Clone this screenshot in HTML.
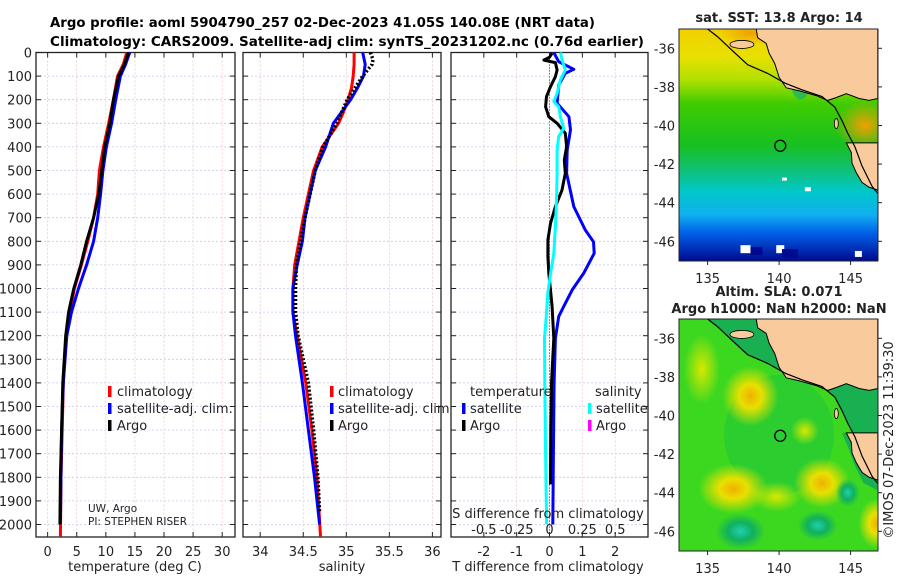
<!DOCTYPE html>
<html><head><meta charset="utf-8"><style>
html,body{margin:0;padding:0;background:#fff;}
svg{display:block;font-family:"DejaVu Sans","Liberation Sans",sans-serif;}
</style></head><body>
<svg id="fig" width="900" height="580" viewBox="0 0 900 580" xmlns="http://www.w3.org/2000/svg">
<defs>
<linearGradient id="sstGrad" x1="0" y1="0" x2="0" y2="1">
<stop offset="0" stop-color="#f0d000"/><stop offset="0.12" stop-color="#e8e000"/>
<stop offset="0.22" stop-color="#b0e000"/><stop offset="0.32" stop-color="#40cc00"/>
<stop offset="0.5" stop-color="#18c020"/><stop offset="0.6" stop-color="#10c070"/>
<stop offset="0.7" stop-color="#00c8c8"/><stop offset="0.8" stop-color="#10b0f0"/>
<stop offset="0.88" stop-color="#0060e8"/><stop offset="1" stop-color="#000a90"/></linearGradient>
<radialGradient id="blobY"><stop offset="0" stop-color="#f0b000"/><stop offset="0.4" stop-color="#e8e000"/><stop offset="1" stop-color="#e8e000" stop-opacity="0"/></radialGradient>
<radialGradient id="blobL"><stop offset="0" stop-color="#d8e800"/><stop offset="1" stop-color="#d8e800" stop-opacity="0"/></radialGradient>
<radialGradient id="blobT"><stop offset="0" stop-color="#20d0b0"/><stop offset="0.5" stop-color="#10b060"/><stop offset="1" stop-color="#10b060" stop-opacity="0"/></radialGradient>
<radialGradient id="blobO"><stop offset="0" stop-color="#f0a000"/><stop offset="1" stop-color="#f0a000" stop-opacity="0"/></radialGradient>
<clipPath id="clipMap1"><rect x="679" y="29" width="199" height="232"/></clipPath>
<clipPath id="clipMap2"><rect x="679" y="319" width="199" height="232"/></clipPath>
</defs>
<text x="50" y="27" font-size="13.5" font-weight="bold" textLength="545" lengthAdjust="spacingAndGlyphs">Argo profile: aoml 5904790_257 02-Dec-2023 41.05S 140.08E (NRT data)</text>
<text x="50" y="46" font-size="13.5" font-weight="bold" textLength="594" lengthAdjust="spacingAndGlyphs">Climatology: CARS2009. Satellite-adj clim: synTS_20231202.nc (0.76d earlier)</text>
<g id="panels"></g>
<g id="maps"></g>
</svg>
<script>
// ---------- data ----------
const depthTicks = [0,100,200,300,400,500,600,700,800,900,1000,1100,1200,1300,1400,1500,1600,1700,1800,1900,2000];
const tempTicks = [0,5,10,15,20,25,30];
const salTicks = [34,34.5,35,35.5,36];
const salTickLabels = ["34","34.5","35","35.5","36"];
const diffTicks = [-2,-1,0,1,2];
const sDiffTickLabels = ["-0.5","-0.25","0","0.25","0.5"];

const depthTemp = [0,50,100,200,300,400,500,600,700,800,900,1000,1100,1200,1400,1600,1800,2000];
const tempArgo = [13.9,13.2,12.2,11.3,10.7,9.8,9.3,8.8,7.9,6.7,5.7,4.5,3.6,3.1,2.6,2.4,2.2,2.1];
const depthTempClim = [0,50,100,200,300,400,500,600,700,800,900,1000,1100,1200,1400,1600,1800,2050];
const tempClim = [13.6,13.0,12.0,11.3,10.5,9.6,8.9,8.6,7.9,6.9,5.8,4.6,3.8,3.2,2.7,2.5,2.3,2.2];
const tempSat = [14.1,13.4,12.5,11.7,11.0,10.1,9.5,9.1,8.6,7.9,6.7,5.3,4.1,3.3,2.7,2.4,2.3,2.2];

const depthSal = [0,50,100,150,200,250,300,400,500,600,700,800,900,1000,1100,1200,1400,1600,1800,2000];
const depthSalClim = [0,50,100,150,200,250,300,400,500,600,700,800,900,1000,1100,1200,1400,1600,1800,2050];
const salClim = [35.09,35.09,35.08,35.06,35.02,34.97,34.91,34.72,34.62,34.56,34.50,34.45,34.40,34.38,34.38,34.43,34.53,34.60,34.66,34.70];
const salSat = [35.19,35.22,35.20,35.13,35.05,34.95,34.85,34.76,34.64,34.58,34.52,34.49,34.43,34.38,34.38,34.41,34.49,34.56,34.63,34.69];
const depthSalArgo = [0,30,50,100,150,200,250,300,400,500,600,700,800,900,1000,1100,1200,1400,1600,1800,1950];
const salArgo = [35.28,35.31,35.30,35.19,35.10,35.01,34.95,34.89,34.73,34.64,34.58,34.52,34.47,34.42,34.41,34.41,34.44,34.56,34.62,34.67,34.69];

const depthDiffSatT = [0,39,71,88,138,215,272,328,413,512,653,752,802,851,936,1006,1077,1119,1211,1400,1700,2000];
const diffSatT = [0.13,0.28,0.74,0.48,0.28,0.23,0.59,0.64,0.54,0.52,0.74,1.09,1.34,1.36,1.04,0.69,0.43,0.28,0.18,0.14,0.12,0.1];
const depthDiffArgoT = [3,20,32,43,74,102,145,187,230,272,300,342,399,455,512,583,653,724,794,865,936,1006,1077,1211,1400,1600,1830];
const diffArgoT = [0.08,0.0,-0.17,0.18,0.23,0.18,0.03,-0.09,-0.12,-0.02,0.23,0.48,0.52,0.45,0.48,0.38,0.18,0.03,-0.05,-0.05,-0.02,0.03,0.08,0.13,0.06,0.04,0.03];
const depthDiffSatS = [0,32,74,116,173,208,230,272,321,356,413,512,625,738,851,936,1020,1105,1211,1400,1700,2000];
const diffSatS = [0.083,0.096,0.12,0.083,0.058,0.033,0.07,0.083,0.108,0.07,0.058,0.058,0.053,0.045,0.033,0.008,-0.013,-0.023,-0.038,-0.036,-0.03,-0.022];

const mapLonTicks = [135,140,145];
const mapLatTicks = [-36,-38,-40,-42,-44,-46];
const floatLon = 140.08, floatLat = -41.05;
const mainlandLon = [138.4,138.5,139.1,139.3,139.7,140.0,140.5,141.4,142.6,143.4,144.0,144.7,145.6,146.3,146.9,146.9];
const mainlandLat = [-35.0,-35.45,-35.75,-36.25,-36.8,-37.5,-38.05,-38.2,-38.45,-38.7,-38.55,-38.35,-38.6,-38.7,-38.6,-35.0];
const tasLon = [144.7,145.05,145.1,145.4,145.8,146.3,146.9,146.9];
const tasLat = [-40.9,-41.4,-41.95,-42.45,-42.95,-43.2,-43.35,-40.9];
const shelfLon = [135.0,135.7,136.7,137.8,139.2,140.4,141.6,143.0,143.9,144.4,144.8,145.3,145.8,146.5,147.2];
const shelfLat = [-35.0,-35.4,-36.1,-36.85,-37.3,-37.8,-38.15,-38.5,-39.05,-39.75,-40.4,-41.1,-42.1,-43.15,-43.8];

// ---------- helpers ----------
const NS = "http://www.w3.org/2000/svg";
function mk(tag, attrs, parent){ const e=document.createElementNS(NS,tag); for(const k in attrs) e.setAttribute(k,attrs[k]); (parent||document.getElementById('panels')).appendChild(e); return e; }
const yTop=52.5, yBot=537, dMax=2053;
const yD = d => yTop + d*(yBot-yTop)/dMax;

function panel(name, x0, x1, xmin, xmax, ticks, labels, showY){
  const g = mk('g',{});
  
  
  const xs = v => x0 + (v-xmin)*(x1-x0)/(xmax-xmin);
  mk('rect',{x:x0,y:yTop,width:x1-x0,height:yBot-yTop,fill:'#fff'},g);
  depthTicks.forEach(d=>{ mk('line',{x1:x0,x2:x1,y1:yD(d),y2:yD(d),stroke:'#c8c8ee','stroke-width':0.8,'stroke-dasharray':'2,2'},g);
    mk('line',{x1:x0,x2:x0+5,y1:yD(d),y2:yD(d),stroke:'#222'},g); mk('line',{x1:x1-5,x2:x1,y1:yD(d),y2:yD(d),stroke:'#222'},g);
    if(showY){ const t=mk('text',{x:x0-4,y:yD(d)+5,'font-size':13,'text-anchor':'end',fill:'#222'},g); t.textContent=d;
      
       } });
  ticks.forEach((v,i)=>{ const x=xs(v); mk('line',{x1:x,x2:x,y1:yTop,y2:yBot,stroke:'#ecc8c8','stroke-width':0.8,'stroke-dasharray':'2,2'},g);
    mk('line',{x1:x,x2:x,y1:yTop,y2:yTop+5,stroke:'#222'},g); mk('line',{x1:x,x2:x,y1:yBot-5,y2:yBot,stroke:'#222'},g);
    const t=mk('text',{x:x,y:556,'font-size':13,'text-anchor':'middle',fill:'#222'},g); t.textContent=labels[i];
    
     });
  mk('rect',{x:x0,y:yTop,width:x1-x0,height:yBot-yTop,fill:'none',stroke:'#222','stroke-width':1.3},g);
  return {g,xs};
}
function line(p, vals, depths, color, name, extra){
  const pts = vals.map((v,i)=>p.xs(v).toFixed(1)+','+yD(depths[i]).toFixed(1)).join(' ');
  const e = mk('polyline',Object.assign({points:pts,fill:'none',stroke:color,'stroke-width':3,'stroke-linejoin':'round'},extra||{}),p.g);
  
  
  return e;
}
function txt(parent,x,y,s,size,extra){ const t=mk('text',Object.assign({x:x,y:y,'font-size':size,fill:'#222'},extra||{}),parent); t.textContent=s; return t; }
function legendBar(parent,x,y,color){ mk('rect',{x:x,y:y-10,width:3.5,height:11,fill:color},parent); }

// ---------- panel 1: temperature ----------
const p1 = panel('temperature-panel',36,235,-2,32.2,tempTicks,tempTicks.map(String),true);
line(p1,tempClim,depthTempClim,'#ff0000','temp-climatology-line');
line(p1,tempSat,depthTemp,'#0000ff','temp-satellite-line');
line(p1,tempArgo,depthTemp,'#000000','temp-argo-line');
let t;
t=txt(p1.g,135,571,'temperature (deg C)',13,{'text-anchor':'middle'});  
[['#ff0000','climatology',396],['#0000ff','satellite-adj. clim.',413],['#000','Argo',430]].forEach(l=>{ legendBar(p1.g,108,l[2],l[0]); const e=txt(p1.g,117,l[2],l[1],13);
  
   });
t=txt(p1.g,88,512,'UW, Argo',10.5);  
t=txt(p1.g,88,525,'PI: STEPHEN RISER',10.5);  

// ---------- panel 2: salinity ----------
const p2 = panel('salinity-panel',243,441,33.8,36.1,salTicks,salTickLabels,false);
line(p2,salClim,depthSalClim,'#ff0000','sal-climatology-line');
line(p2,salSat,depthSal,'#0000ff','sal-satellite-line');
line(p2,salArgo,depthSalArgo,'#000000','sal-argo-line',{'stroke-dasharray':'2,2','stroke-width':3.5});
t=txt(p2.g,342,571,'salinity',13,{'text-anchor':'middle'});  
[['#ff0000','climatology',396],['#0000ff','satellite-adj. clim.',413],['#000','Argo',430]].forEach(l=>{ legendBar(p2.g,330,l[2],l[0]); const e=txt(p2.g,338,l[2],l[1],13);
  
   });

// ---------- panel 3: differences ----------
const p3 = panel('difference-panel',451,648,-3,3,diffTicks,diffTicks.map(String),false);
mk('line',{x1:p3.xs(0),x2:p3.xs(0),y1:yTop,y2:yBot,stroke:'#333','stroke-width':1,'stroke-dasharray':'1,2'},p3.g);
const diffSatSasT = diffSatS.map(v=>v*4);
line(p3,diffSatT,depthDiffSatT,'#0000ff','t-diff-satellite-line');
line(p3,diffArgoT,depthDiffArgoT,'#000000','t-diff-argo-line');
line(p3,diffSatSasT,depthDiffSatS,'#00ffff','s-diff-satellite-line');
t=txt(p3.g,548,571,'T difference from climatology',13,{'text-anchor':'middle'});  
t=txt(p3.g,548,518,'S difference from climatology',13,{'text-anchor':'middle'});  
diffTicks.forEach((v,i)=>{ const e=txt(p3.g,p3.xs(v),534,sDiffTickLabels[i],13,{'text-anchor':'middle'});
  
   });
t=txt(p3.g,470,396,'temperature',13);  
t=txt(p3.g,595,396,'salinity',13);  
[['#0000ff','satellite',462,413],['#000','Argo',462,430],['#00ffff','satellite',588,413],['#ff00ff','Argo',588,430]].forEach(l=>{ legendBar(p3.g,l[2],l[3],l[0]); const e=txt(p3.g,l[2]+8,l[3],l[1],13);
  
   });

// ---------- maps ----------
const mapsG = document.getElementById('maps');
const mx = lon => 679 + (lon-133)*14.3;
function drawMap(name, y0, clip, kind){
  const my = lat => y0 + (-35-lat)*19.3;
  const g = mk('g',{},mapsG);
  
  
  const c = mk('g',{'clip-path':'url(#'+clip+')'},g);
  // shelf band polygon: shelf line then back along coast
  const shelfPts = shelfLon.map((v,i)=>mx(v)+','+my(shelfLat[i])).join(' ') + ' ' +
    [[147.2,-38.6],[146.3,-38.7],[145.6,-38.6],[144.7,-38.35],[144.0,-38.55],[143.4,-38.7],[142.6,-38.45],[141.4,-38.2],[140.5,-38.05],[140.0,-37.5],[139.7,-36.8],[139.3,-36.25],[139.1,-35.75],[138.5,-35.45],[138.4,-35.0]].map(p=>mx(p[0])+','+my(p[1])).join(' ');
  if(kind==='sst'){
    mk('rect',{x:679,y:y0,width:199,height:232,fill:'url(#sstGrad)'},c);
    mk('ellipse',{cx:mx(146),cy:my(-40),rx:30,ry:25,fill:'url(#blobO)'},c);
    mk('ellipse',{cx:mx(138),cy:my(-35.2),rx:30,ry:12,fill:'url(#blobO)'},c);
    mk('ellipse',{cx:mx(141.5),cy:my(-37.7),rx:10,ry:18,fill:'#10b070',opacity:0.7},c);
    [[137.3,-46.2,10,8],[139.8,-46.2,8,8],[145.3,-46.5,7,6],[141.8,-43.2,6,4],[140.2,-42.7,5,3]].forEach(w=>mk('rect',{x:mx(w[0]),y:my(w[1]),width:w[2],height:w[3],fill:'#fff'},c));
    mk('rect',{x:mx(138),y:my(-46.3),width:12,height:8,fill:'#000a90'},c);
    mk('rect',{x:mx(140.2),y:my(-46.4),width:16,height:9,fill:'#000a90'},c);
  } else {
    mk('rect',{x:679,y:y0,width:199,height:232,fill:'#3cd820'},c);
    mk('ellipse',{cx:mx(140),cy:my(-41),rx:55,ry:60,fill:'#22c83a',opacity:0.6},c);
    [[138,-39,28,30,'blobY'],[136.8,-43.8,35,25,'blobY'],[143,-43.5,28,25,'blobY'],[134.6,-37.6,18,35,'blobL'],[146.8,-45.6,18,25,'blobY'],[141.8,-40.8,14,14,'blobL'],[139.8,-44.2,25,15,'blobL'],[137.3,-46,25,18,'blobT'],[142.7,-45.7,20,15,'blobT'],[144.8,-44,12,14,'blobT']].forEach(b=>mk('ellipse',{cx:mx(b[0]),cy:my(b[1]),rx:b[2],ry:b[3],fill:'url(#'+b[4]+')'},c));
    mk('polygon',{points:shelfPts,fill:'#18b050'},c);
    mk('polygon',{points:[[144.7,-40.9],[144.4,-40.9],[144.8,-41.6],[145.3,-42.6],[145.9,-43.5],[147.2,-44],[147.2,-43.8],[146.5,-43.15],[145.8,-42.1],[145.3,-41.1]].map(p=>mx(p[0])+','+my(p[1])).join(' '),fill:'#18b050'},c);
  }
  const land = mk('polygon',{points:mainlandLon.map((v,i)=>mx(v)+','+my(mainlandLat[i])).join(' '),fill:'#f9cb9c',stroke:'#000','stroke-width':1},c);
  
  
  mk('polygon',{points:tasLon.map((v,i)=>mx(v)+','+my(tasLat[i])).join(' '),fill:'#f9cb9c',stroke:'#000','stroke-width':1},c);
  mk('ellipse',{cx:mx(137.4),cy:my(-35.8),rx:12,ry:4,fill:'#f9cb9c',stroke:'#000','stroke-width':0.8},c);
  mk('ellipse',{cx:mx(144),cy:my(-39.9),rx:2,ry:5,fill:'#f9cb9c',stroke:'#000','stroke-width':0.8},c);
  const sh = mk('polyline',{points:shelfLon.map((v,i)=>mx(v)+','+my(shelfLat[i])).join(' '),fill:'none',stroke:'#000','stroke-width':1.2},c);
  
  
  const fl = mk('circle',{cx:mx(floatLon),cy:my(floatLat),r:5.5,fill:'none',stroke:'#000','stroke-width':1.3},g);
  
  
  mk('rect',{x:679,y:y0,width:199,height:232,fill:'none',stroke:'#222','stroke-width':1},g);
  mapLatTicks.forEach(l=>{ const y=my(l); mk('line',{x1:878,x2:882,y1:y,y2:y,stroke:'#222'},g);
    const e=txt(g,675,y+5,String(l),13,{'text-anchor':'end'});
    
     });
  mapLonTicks.forEach(l=>{ const x=mx(l); mk('line',{x1:x,x2:x,y1:y0+232,y2:y0+236,stroke:'#222'},g);
    const e=txt(g,x,y0+254,String(l),13,{'text-anchor':'middle'});
    
     });
}
drawMap('sst-map',29,'clipMap1','sst');
drawMap('sla-map',319,'clipMap2','sla');
t=txt(mapsG,779,22,'sat. SST: 13.8 Argo: 14',13,{'text-anchor':'middle','font-weight':'bold'});  
t=txt(mapsG,779,296,'Altim. SLA: 0.071',13,{'text-anchor':'middle','font-weight':'bold'});  
t=txt(mapsG,779,313,'Argo h1000: NaN h2000: NaN',13,{'text-anchor':'middle','font-weight':'bold'});  
t=txt(mapsG,0,0,'©IMOS 07-Dec-2023 11:39:30',13,{'text-anchor':'middle',transform:'translate(893,440) rotate(-90)'});  
</script>
</body></html>
